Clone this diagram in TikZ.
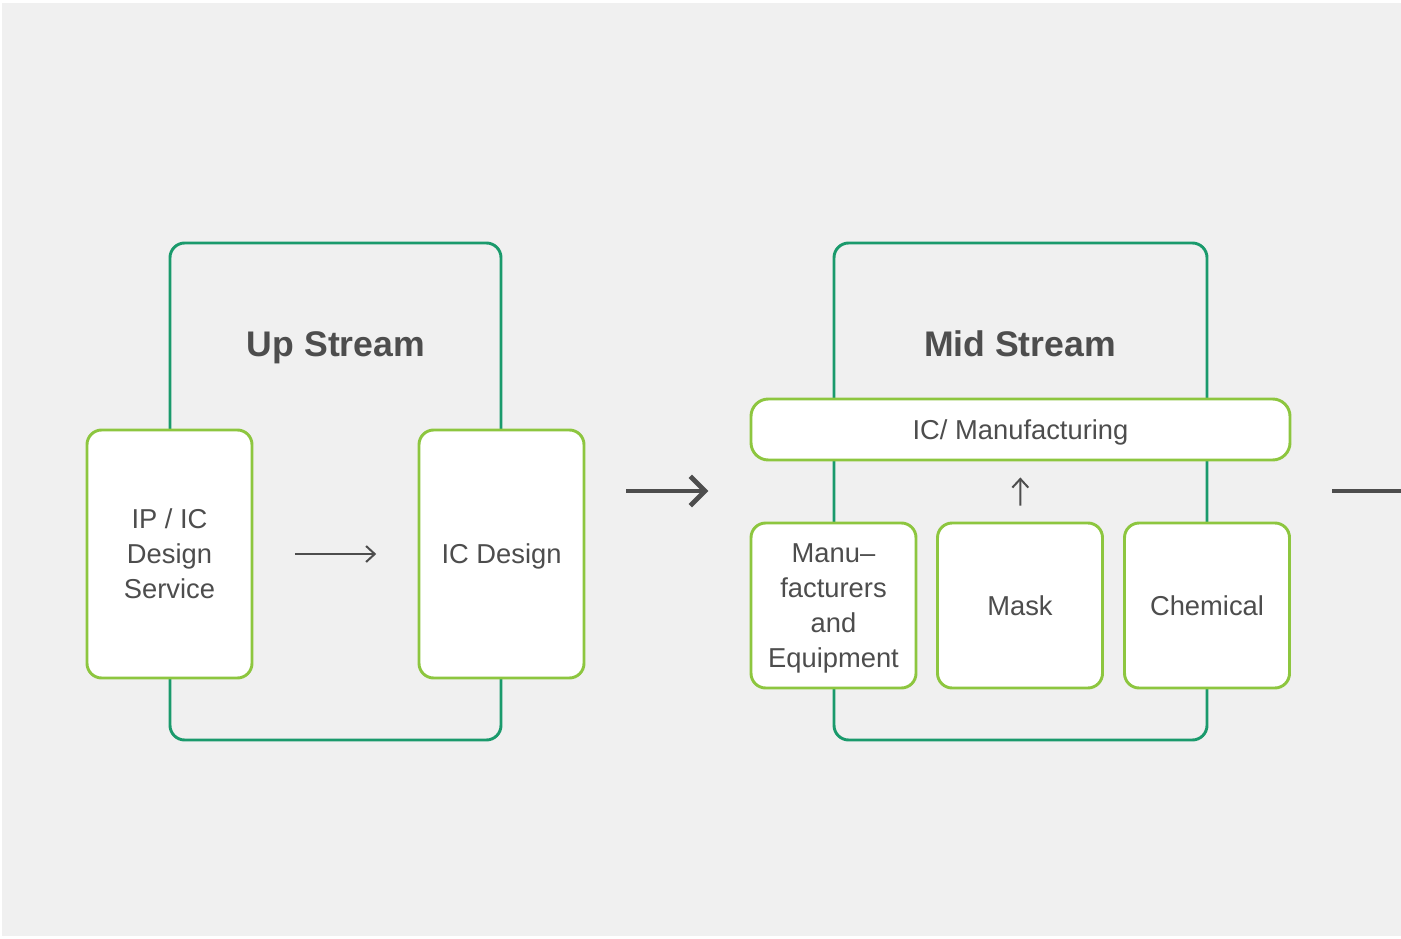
\documentclass[tikz,border=0pt]{standalone}
\usepackage{fontspec}
\setmainfont{Liberation Sans}
\usepackage{tikz}
\usetikzlibrary{arrows.meta}
\usetikzlibrary{positioning}

\definecolor{bggray}{HTML}{F0F0F0}
\definecolor{deepgreen}{HTML}{1A9A6C}
\definecolor{leafgreen}{HTML}{8DC63F}
\definecolor{inkgray}{HTML}{4D4D4D}

\tikzset{
  streambox/.style={draw=deepgreen, line width=2.2pt, rounded corners=11pt,
    minimum height=372.75pt, inner sep=0pt},
  partbox/.style={draw=leafgreen, fill=white, line width=2.2pt, rounded corners=11pt,
    minimum width=123.75pt, text=inkgray, align=center, inner sep=0pt, text depth=0pt,
    font=\fontsize{20.5}{26.2}\selectfont},
  streamtitle/.style={anchor=base, text=inkgray, font=\fontsize{26.7}{30}\selectfont\bfseries},
  flow/.style={draw=inkgray, line width=1.5pt,
    -{Straight Barb[length=6.5pt, width=12pt]}},
  bigflow/.style={draw=inkgray, line width=3.6pt,
    -{Straight Barb[length=11pt, width=22pt]}}
}

\begin{document}
\begin{tikzpicture}[x=0.75pt, y=-0.75pt]
  \useasboundingbox (0, 0) rectangle (1401, 938);
  \fill[white] (0, 0) rectangle (1401, 938);
  \fill[bggray] (2, 3) rectangle (1401, 936);

  % up stream
  \node[streambox, minimum width=248.25pt] (upstream) at (335.5, 491.5) {};
  \node[streamtitle] (uptitle) at (336, 356) {Up Stream};
  \node[partbox, minimum height=186pt] (ipic) at (169.5, 554) {IP / IC\\Design\\Service};
  \node[partbox, minimum height=186pt] (icdesign) at (501.5, 554) {IC Design};
  \draw[flow, shorten <=31pt, shorten >=31pt] (ipic) -- (icdesign);

  % mid stream
  \node[streambox, minimum width=279.75pt] (midstream) at (1020.5, 491.5) {};
  \node[streamtitle] (midtitle) at (1020, 356) {Mid Stream};
  \node[partbox, minimum width=404.25pt, minimum height=45.75pt, rounded corners=13pt]
    (manufacturing) at (1020.5, 429.5) {IC/ Manufacturing};
  \node[partbox, minimum height=123.75pt] (equipment) at (833.5, 605.5)
    {Manu--\\facturers\\and\\Equipment};
  \node[partbox, minimum height=123.75pt] (mask) at (1020, 605.5) {Mask};
  \node[partbox, minimum height=123.75pt] (chemical) at (1207, 605.5) {Chemical};
  \draw[flow, shorten <=12pt, shorten >=12pt] (mask) -- (manufacturing);

  % between the streams
  \coordinate (upexit) at (501, 491);
  \coordinate (midentry) at (751, 491);
  \draw[bigflow, shorten <=94pt, shorten >=32pt] (upexit) -- (midentry);
  \coordinate (midexit) at (1290, 491);
  \coordinate (downentry) at (1401, 491);
  \draw[draw=inkgray, line width=3.6pt, shorten <=31.5pt] (midexit) -- (downentry);
\end{tikzpicture}
\end{document}
